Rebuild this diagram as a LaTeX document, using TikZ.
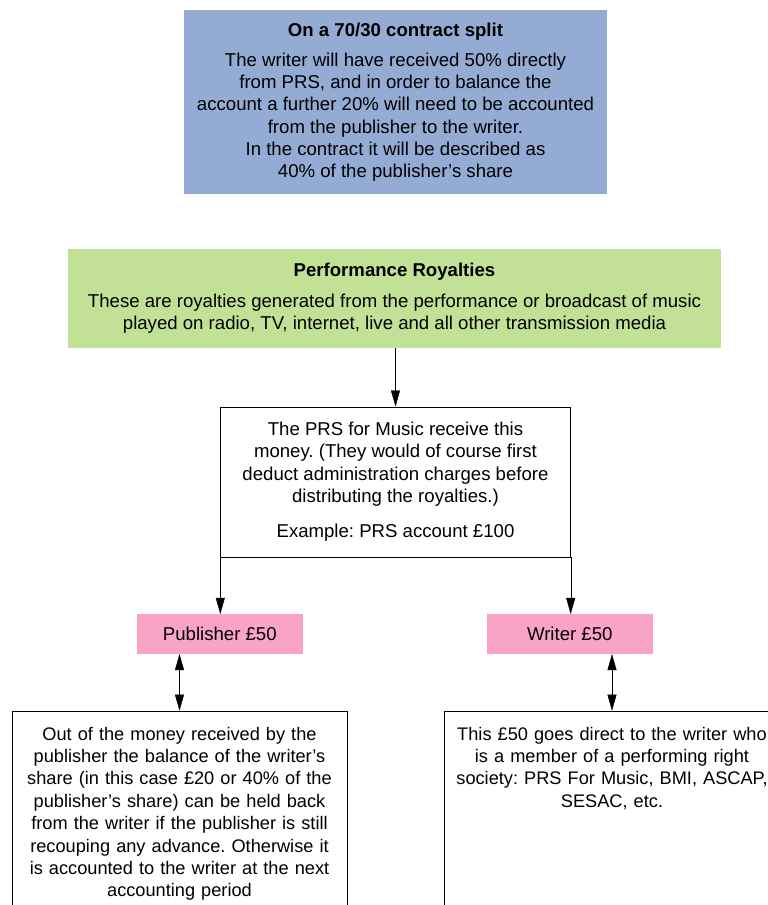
\documentclass[tikz,border=0pt]{standalone}
\usepackage{fontspec}
\setmainfont{Liberation Sans}
\usetikzlibrary{arrows.meta,positioning}
\definecolor{splitblue}{HTML}{94ABD4}
\definecolor{royalgreen}{HTML}{C3E196}
\definecolor{sharepink}{HTML}{F9A3C7}
\frenchspacing
\tikzset{
    x=1pt,y=-1pt,
    -{Triangle[length=16pt,width=9pt]},line width=1pt,
    every node/.style={font=\fontsize{18.6}{22.3}\selectfont,align=center,inner sep=0pt},
    note/.style={rectangle, minimum width=#1},
    share/.style={rectangle, fill=sharepink, minimum width=165.5, minimum height=39.7},
    detail/.style={rectangle, draw, anchor=north, inner xsep=2.5pt, inner ysep=16pt,
        text width=330pt, text depth=200pt, font=\fontsize{18.2}{22.4}\selectfont},
    twoway/.style={{Triangle[length=16pt,width=9pt]}-{Triangle[length=16pt,width=9pt]}}
}
\begin{document}
\begin{tikzpicture}
    \useasboundingbox (0,0) rectangle (768,905);
    \clip (0,0) rectangle (768,905);
    \node (split) [note=423, minimum height=184, fill=splitblue] at (395.5,102)
        {{\bfseries On a 70/30 contract split}\\[7.8pt]
         The writer will have received 50\% directly\\
         from PRS, and in order to balance the\\
         account a further 20\% will need to be accounted\\
         from the publisher to the writer.\\
         In the contract it will be described as\\
         40\% of the publisher’s share};
    \node (royal) [note=653, minimum height=98.5, fill=royalgreen] at (394.5,298.3)
        {{\bfseries Performance Royalties}\\[8.4pt]
         These are royalties generated from the performance or broadcast of music\\
         played on radio, TV, internet, live and all other transmission media};
    \node (prs) [note=350, minimum height=150, draw] at (395.5,481.7)
        {The PRS for Music receive this\\
         money. (They would of course first\\
         deduct administration charges before\\
         distributing the royalties.)\\[12.7pt]
         Example: PRS account £100};
    \node (pub) [share] at (219.8,634) {Publisher £50};
    \node (wri) [share] at (569.8,634) {Writer £50};
    \node (lefty) [detail] at (179.5,710.7)
        {Out of the money received by the\\
         publisher the balance of the writer’s\\
         share (in this case £20 or 40\% of the\\
         publisher’s share) can be held back\\
         from the writer if the publisher is still\\
         recouping any advance. Otherwise it\\
         is accounted to the writer at the next\\
         accounting period};
    \node (righty) [detail] at (612,710.7)
        {This £50 goes direct to the writer who\\
         is a member of a performing right\\
         society: PRS For Music, BMI, ASCAP,\\
         SESAC, etc.};

    \path (royal.south -| prs.north) edge (prs.north);
    \path (prs.south west) edge (prs.south west |- pub.north);
    \path (prs.south east) edge (prs.south east |- wri.north);
    \path (pub.south -| lefty.north) edge[twoway] (lefty.north);
    \path (wri.south -| righty.north) edge[twoway] (righty.north);
\end{tikzpicture}
\end{document}
